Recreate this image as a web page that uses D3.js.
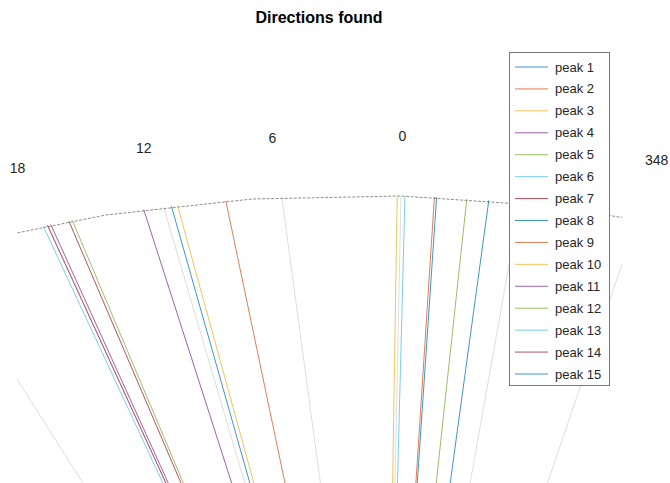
<!DOCTYPE html>
<html>
<head>
<meta charset="utf-8">
<script src="https://cdn.jsdelivr.net/npm/d3@7"></script>
<style>
  html, body { margin: 0; padding: 0; background: #fff; }
  svg { display: block; }
  text { font-family: "Liberation Sans", Arial, Helvetica, sans-serif; }
</style>
</head>
<body>
<script>
// ---- data ----
const peakNames = ["peak 1","peak 2","peak 3","peak 4","peak 5","peak 6","peak 7","peak 8",
                   "peak 9","peak 10","peak 11","peak 12","peak 13","peak 14","peak 15"];
// direction of each peak in degrees (counter-clockwise, 0 at top)
const peakAngles = [11.60, 8.83, 11.29, 17.85, 16.72, 18.25, 18.03, -1.79,
                    -1.68, 0.19, 13.02, -3.31, -0.20, 16.90, -4.42];
const peakColors = ["#0072BD","#D95319","#EDB120","#7E2F8E","#77AC30","#4DBEEE","#A2142F",
                    "#0072BD","#D95319","#EDB120","#7E2F8E","#77AC30","#4DBEEE","#A2142F","#0072BD"];
const gridAngles = [-18, -12, -6, 0, 6, 12, 18, 24, 30];
// theta tick labels that fall inside the figure
const tickAngles = [-12, -6, 0, 6, 12, 18];
const tickLabels = ["348", "354", "0", "6", "12", "18"];
const rMax = 1;

// ---- layout ----
const W = 670, H = 483;
const svg = d3.select("body").append("svg").attr("width", W).attr("height", H);

// radial and angular scales
const rScale = d3.scaleLinear().domain([0, rMax]).range([0, 1]);
const aScale = d3.scaleLinear().domain([0, 360]).range([0, 2 * Math.PI]);

// projected (tilted) polar frame
const cx = 385, cy = 960, A = 1140, B = 16, D = 764, E = 27;
function px(theta, r) { const t = aScale(theta), k = rScale(r); return cx + k * (-A * Math.sin(t) + B * Math.cos(t)); }
function py(theta, r) { const t = aScale(theta), k = rScale(r); return cy - k * (D * Math.cos(t) + E * Math.sin(t)); }

const line = d3.line().x(d => px(d[0], d[1])).y(d => py(d[0], d[1]));

svg.append("defs").append("clipPath").attr("id", "clip")
  .append("rect").attr("x", 17).attr("y", 0).attr("width", 605).attr("height", H);

const plot = svg.append("g").attr("clip-path", "url(#clip)");

// spokes
plot.selectAll("path.spoke").data(gridAngles).join("path")
  .attr("class", "spoke")
  .attr("d", a => line([[a, 0], [a, rMax]]))
  .attr("fill", "none").attr("stroke", "#dedede").attr("stroke-width", 1);

// outer ring (polygon, 7.5 deg steps)
const ringPts = d3.range(-180, 180.01, 7.5).map(a => [a, rMax]);
plot.append("path").attr("d", line(ringPts))
  .attr("fill", "none").attr("stroke", "#8f8f8f").attr("stroke-width", 1)
  .attr("stroke-dasharray", "3,1.5");

// peak rays
plot.selectAll("path.peak").data(peakAngles).join("path")
  .attr("class", "peak")
  .attr("d", a => line([[a, 0], [a, rMax]]))
  .attr("fill", "none")
  .attr("stroke", (a, i) => peakColors[i])
  .attr("stroke-opacity", 0.75)
  .attr("stroke-width", 1);

// theta tick labels
const fx = a => (a < 0 ? 1.075 : 1.09), fy = 1.078;
svg.selectAll("text.tick").data(tickAngles).join("text")
  .attr("class", "tick")
  .attr("x", a => cx + fx(a) * (px(a, rMax) - cx))
  .attr("y", a => cy + fy * (py(a, rMax) - cy))
  .attr("text-anchor", "middle").attr("dominant-baseline", "central")
  .attr("font-size", 14).attr("fill", "#262626")
  .text((a, i) => tickLabels[i]);

// title
svg.append("text").attr("x", 319).attr("y", 17)
  .attr("text-anchor", "middle").attr("dominant-baseline", "central")
  .attr("font-size", 16).attr("font-weight", "bold").attr("fill", "#000")
  .text("Directions found");

// legend
const lg = svg.append("g");
lg.append("rect").attr("x", 509.5).attr("y", 52.5).attr("width", 100).attr("height", 333)
  .attr("fill", "#fff").attr("stroke", "#777").attr("stroke-width", 1);
const ly = d3.scaleLinear().domain([0, peakNames.length - 1]).range([67, 374]);
const items = lg.selectAll("g.item").data(peakNames).join("g").attr("class", "item");
items.append("line")
  .attr("x1", 515).attr("x2", 548)
  .attr("y1", (d, i) => ly(i)).attr("y2", (d, i) => ly(i))
  .attr("stroke", (d, i) => peakColors[i]).attr("stroke-opacity", 0.75).attr("stroke-width", 1);
items.append("text")
  .attr("x", 555).attr("y", (d, i) => ly(i))
  .attr("dominant-baseline", "central").attr("font-size", 13).attr("fill", "#262626")
  .text(d => d);
</script>
</body>
</html>
